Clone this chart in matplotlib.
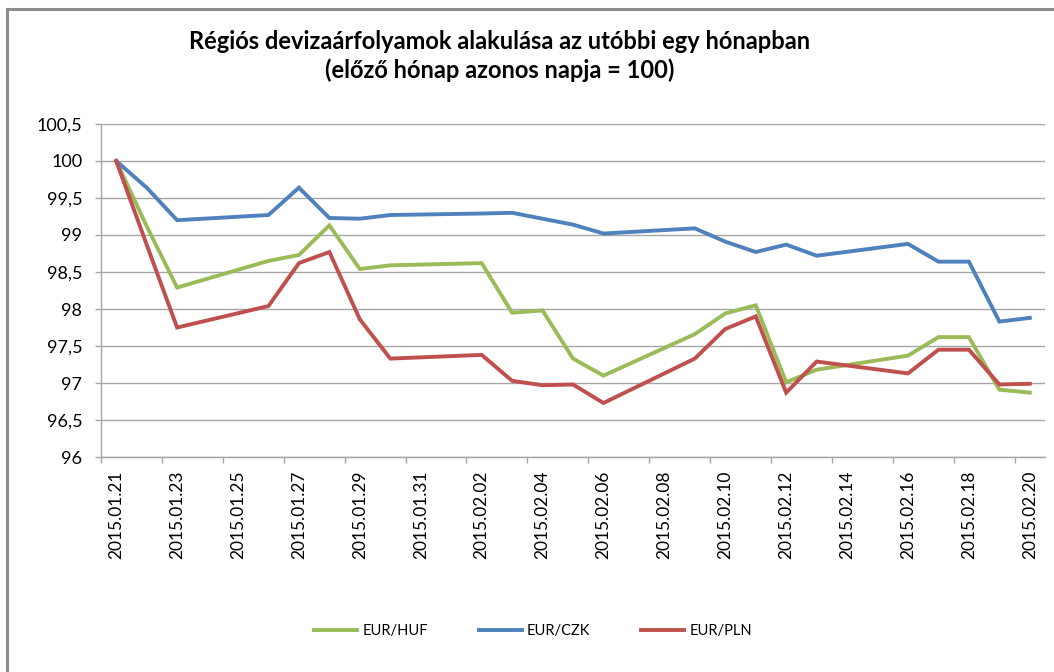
import matplotlib
matplotlib.use("Agg")
import matplotlib.pyplot as plt
import matplotlib.ticker as mticker
import matplotlib.patches as mpatches
import matplotlib.dates as mdates
import pandas as pd

plt.rcParams['font.family'] = ['Lato', 'DejaVu Sans']

# business days shown on the chart
dates = ['2015-01-21', '2015-01-22', '2015-01-23', '2015-01-26', '2015-01-27',
         '2015-01-28', '2015-01-29', '2015-01-30', '2015-02-02', '2015-02-03',
         '2015-02-04', '2015-02-05', '2015-02-06', '2015-02-09', '2015-02-10',
         '2015-02-11', '2015-02-12', '2015-02-13', '2015-02-16', '2015-02-17',
         '2015-02-18', '2015-02-19', '2015-02-20']

eur_huf = [100, 99.12, 98.29, 98.65, 98.73, 99.13, 98.54, 98.59, 98.62, 97.95,
           97.98, 97.33, 97.10, 97.66, 97.94, 98.05, 97.01, 97.18, 97.37, 97.62,
           97.62, 96.91, 96.87]
eur_czk = [100, 99.64, 99.20, 99.27, 99.64, 99.23, 99.22, 99.27, 99.29, 99.30,
           99.22, 99.14, 99.02, 99.09, 98.91, 98.77, 98.87, 98.72, 98.88, 98.64,
           98.64, 97.83, 97.88]
eur_pln = [100, 98.87, 97.75, 98.04, 98.62, 98.77, 97.86, 97.33, 97.38, 97.03,
           96.97, 96.98, 96.73, 97.33, 97.73, 97.90, 96.87, 97.29, 97.13, 97.45,
           97.45, 96.98, 96.99]

series_names = ['EUR/HUF', 'EUR/CZK', 'EUR/PLN']
title_txt = "Régiós devizaárfolyamok alakulása az utóbbi egy hónapban\n(előző hónap azonos napja = 100)"

x = pd.to_datetime(dates)
first = pd.Timestamp('2015-01-21')
last = pd.Timestamp('2015-02-20')
half = pd.Timedelta(hours=12)

fig = plt.figure(figsize=(10.54, 6.72), dpi=100)
ax = fig.add_axes([0.0958, 0.3199, 0.8957, 0.4956])

# chart border
fig.patches.append(mpatches.Rectangle((7 / 1054, -0.2), 1.5, 0.2 + 1 - 9 / 672,
                                      transform=fig.transFigure, fill=False,
                                      edgecolor='#8c8c8c', linewidth=2.2))

cols = ['#9BBB59', '#4F81BD', '#C0504D']
for vals, nm, c in zip([eur_huf, eur_czk, eur_pln], series_names, cols):
    ax.plot(x, vals, color=c, linewidth=2.8, label=nm, solid_joinstyle='miter')

ax.set_xlim(first - half, last + half)
ax.set_ylim(96, 100.5)

ax.yaxis.set_major_locator(mticker.MultipleLocator(0.5))
ax.yaxis.set_major_formatter(mticker.FuncFormatter(lambda v, p: ("%g" % v).replace('.', ',')))

lab_days = pd.date_range(first, last, freq='2D')
ax.xaxis.set_major_locator(mticker.FixedLocator(mdates.date2num(lab_days)))
ax.xaxis.set_major_formatter(mticker.FixedFormatter([d.strftime('%Y.%m.%d') for d in lab_days]))
ax.xaxis.set_minor_locator(mticker.FixedLocator(mdates.date2num(lab_days - half)))

ax.grid(axis='y', color='#a6a6a6', linewidth=1)
ax.set_axisbelow(True)
for s in ['top', 'right']:
    ax.spines[s].set_visible(False)
for s in ['left', 'bottom']:
    ax.spines[s].set_color('#a6a6a6')
    ax.spines[s].set_linewidth(1)

ax.tick_params(axis='y', length=4.5, width=1, color='#a6a6a6', pad=9, labelsize=13)
ax.tick_params(axis='x', which='major', length=0, pad=10, labelsize=12.5, labelrotation=90)
ax.tick_params(axis='x', which='minor', length=4.5, width=1, color='#a6a6a6')

fig.text(500 / 1054, 1 - 56 / 672, title_txt, ha='center', va='center',
         fontsize=17, fontweight='bold', linespacing=1.3)

fig.legend(loc='center', bbox_to_anchor=(533 / 1054, 1 - 631 / 672), ncol=3,
           frameon=False, fontsize=10.5, handlelength=2.95, columnspacing=3.5,
           handletextpad=0.34)

fig.savefig('out.png', dpi=100)
